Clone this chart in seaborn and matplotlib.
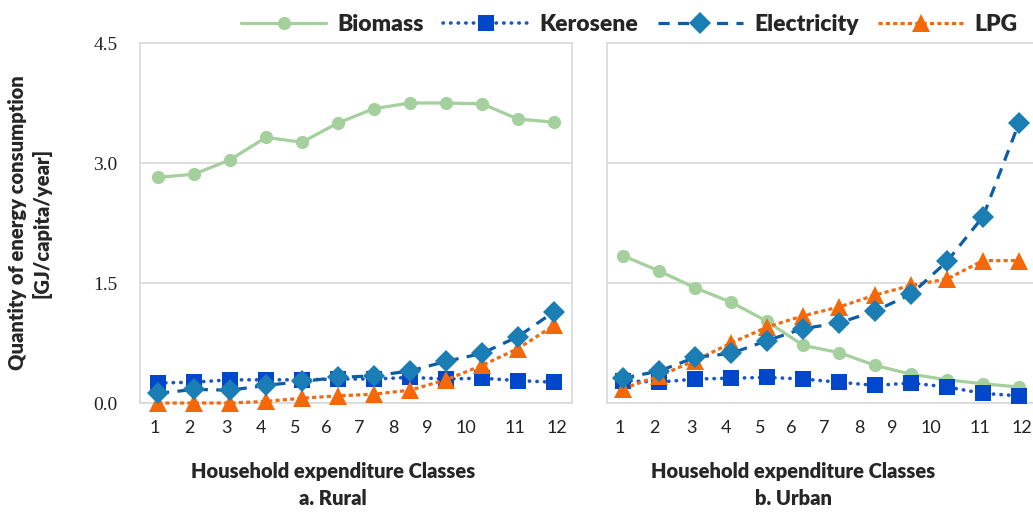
import matplotlib.pyplot as plt
import seaborn as sns

# household expenditure classes
classes = list(range(1, 13))

# energy use [GJ/capita/year]
rural_biomass = [2.82, 2.86, 3.04, 3.32, 3.26, 3.50, 3.68, 3.75, 3.75, 3.74, 3.55, 3.51]
rural_kerosene = [0.25, 0.26, 0.29, 0.29, 0.29, 0.30, 0.30, 0.32, 0.30, 0.31, 0.28, 0.26]
rural_electricity = [0.12, 0.17, 0.16, 0.22, 0.27, 0.32, 0.34, 0.40, 0.52, 0.62, 0.83, 1.14]
rural_lpg = [0.00, 0.00, 0.00, 0.02, 0.06, 0.09, 0.11, 0.16, 0.29, 0.47, 0.68, 0.97]

urban_biomass = [1.84, 1.65, 1.44, 1.26, 1.02, 0.72, 0.63, 0.47, 0.36, 0.29, 0.24, 0.20]
urban_kerosene = [0.28, 0.26, 0.30, 0.31, 0.32, 0.30, 0.26, 0.22, 0.25, 0.20, 0.12, 0.09]
urban_electricity = [0.31, 0.40, 0.57, 0.62, 0.78, 0.93, 1.00, 1.15, 1.36, 1.77, 2.33, 3.50]
urban_lpg = [0.18, 0.34, 0.53, 0.75, 0.95, 1.09, 1.20, 1.35, 1.47, 1.55, 1.78, 1.78]

fuels = ["Biomass", "Kerosene", "Electricity", "LPG"]
panels = {
    "a. Rural": [rural_biomass, rural_kerosene, rural_electricity, rural_lpg],
    "b. Urban": [urban_biomass, urban_kerosene, urban_electricity, urban_lpg],
}

# style per fuel
styles = {
    "Biomass": dict(color="#a3d09c", mfc="#a3d09c", marker="o", ms=9.5, lw=2.3,
                    linestyle="-", zorder=2),
    "Kerosene": dict(color="#1a55c4", mfc="#0047cc", marker="s", ms=11.5, lw=2.6,
                     linestyle=(0, (0.1, 2.0)), dash_capstyle="round", zorder=3),
    "Electricity": dict(color="#0c5da6", mfc="#1a7db3", marker="D", ms=11.5, lw=2.3,
                        linestyle=(0, (3.5, 2.6)), zorder=5),
    "LPG": dict(color="#f26a0f", mfc="#f5680a", marker="^", ms=12.5, lw=2.3,
                linestyle=(0, (1.3, 1.0)), zorder=4),
}

# the tick labels of the original do not sit exactly on the data points
tick_pos = [0.9, 1.86, 2.9, 3.85, 4.8, 5.68, 6.6, 7.55, 8.47, 9.55, 10.9, 12.08]

sns.set_style("white")
plt.rcParams["font.family"] = ["Lato", "DejaVu Sans"]

fig = plt.figure(figsize=(10.33, 5.12), dpi=100)
ax1 = fig.add_axes([140 / 1033, 109 / 512, 432 / 1033, 360 / 512])
ax2 = fig.add_axes([607 / 1033, 109 / 512, 430 / 1033, 360 / 512])

for ax, (title, series), lab_x in zip([ax1, ax2], panels.items(), [0.447, 0.433]):
    for fuel, vals in zip(fuels, series):
        st = dict(styles[fuel])
        sns.lineplot(x=classes, y=vals, ax=ax, label=fuel, markeredgewidth=0,
                     markerfacecolor=st.pop("mfc"), clip_on=False, **st)
    if ax.get_legend() is not None:
        ax.get_legend().remove()

    ax.set_ylim(0, 4.5)
    ax.set_yticks([0, 1.5, 3.0, 4.5])
    ax.yaxis.grid(True, color="#dcdcdc", lw=1.3)
    ax.xaxis.grid(False)
    ax.set_xticks(tick_pos, [str(c) for c in classes])
    ax.tick_params(axis="x", length=0, pad=12, labelsize=13, labelcolor="#222222")
    ax.tick_params(axis="y", length=0, pad=16)
    for sp in ax.spines.values():
        sp.set_color("#d9d9d9")
        sp.set_linewidth(1.2)
    ax.set_xlabel("Household expenditure Classes\n" + title, fontsize=14.5,
                  fontweight="heavy", linespacing=1.45)
    ax.xaxis.set_label_coords(lab_x, -0.165)
    ax.set_ylabel("")

ax1.set_xlim(0.5, 12.5)
ax2.set_xlim(0.55, 12.5)

ax1.set_yticklabels(["0.0", "1.5", "3.0", "4.5"], family="Liberation Serif",
                    fontsize=14, color="#222222")
ax2.tick_params(axis="y", labelleft=False)
ax2.spines["right"].set_visible(False)

ax1.set_ylabel("Quantity of energy consumption\n[GJ/capita/year]", fontsize=14.5,
               fontweight="heavy", linespacing=1.25)
ax1.yaxis.set_label_coords(-0.205, 0.5)

handles, labels = ax1.get_legend_handles_labels()
fig.legend(handles, labels, loc="upper right", bbox_to_anchor=(1.005, 1.012), ncol=4,
           frameon=False, handlelength=3.7, handletextpad=0.5, columnspacing=0.85,
           prop={"weight": "heavy", "size": 16.5})

fig.savefig("out.png", dpi=100)
